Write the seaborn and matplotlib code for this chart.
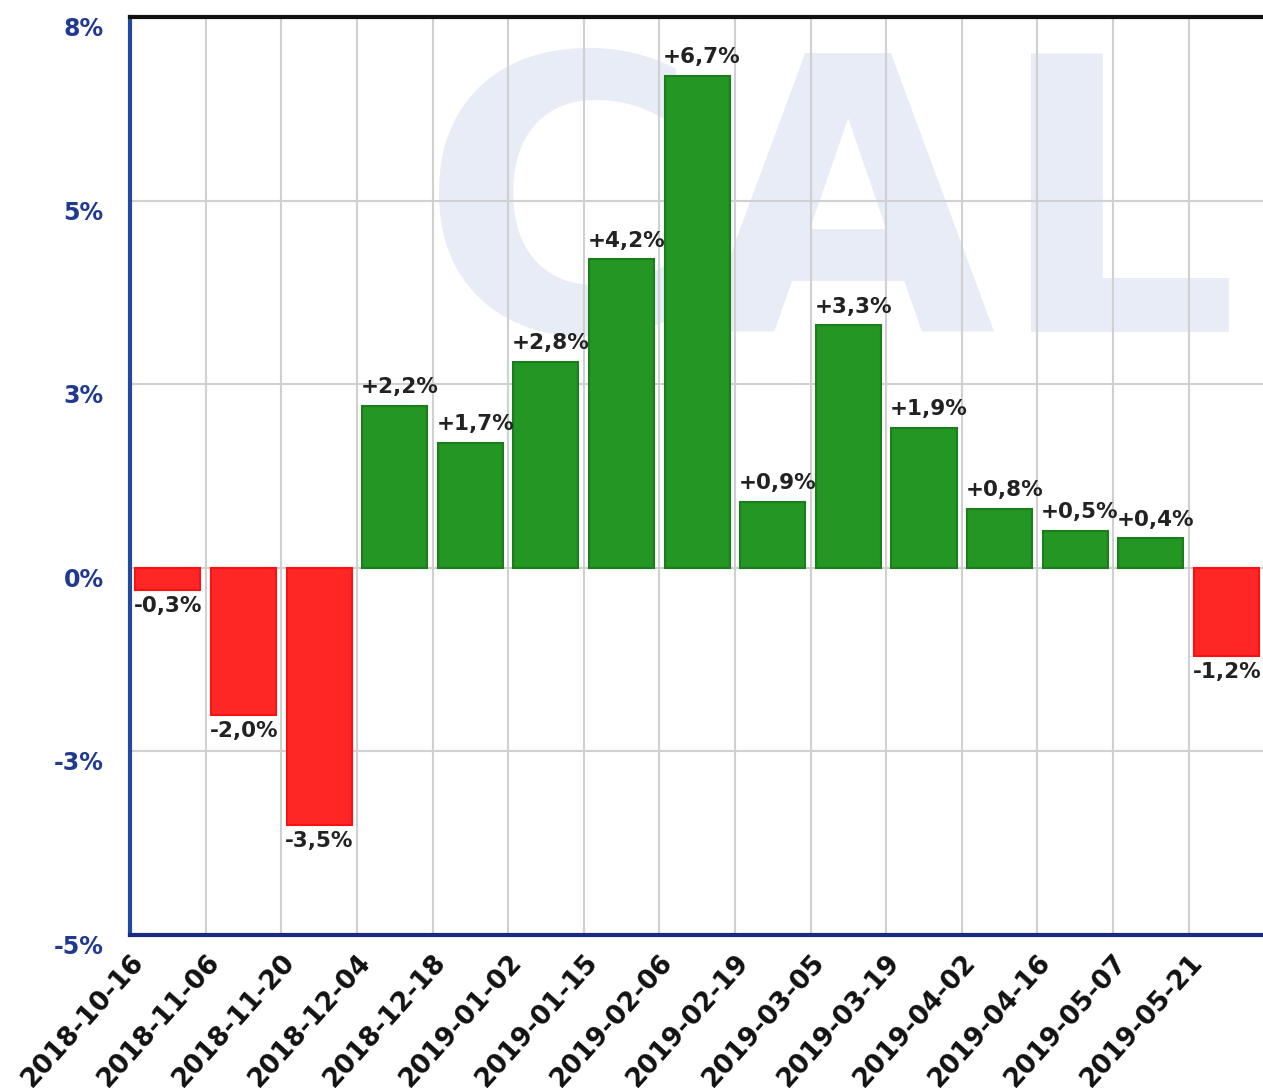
import numpy as np
import pandas as pd
import matplotlib
matplotlib.use("Agg")
import matplotlib.pyplot as plt
import seaborn as sns

# data
dates = ["2018-10-16", "2018-11-06", "2018-11-20", "2018-12-04", "2018-12-18",
         "2019-01-02", "2019-01-15", "2019-02-06", "2019-02-19", "2019-03-05",
         "2019-03-19", "2019-04-02", "2019-04-16", "2019-05-07", "2019-05-21"]
changes = [-0.3, -2.0, -3.5, 2.2, 1.7, 2.8, 4.2, 6.7, 0.9, 3.3, 1.9, 0.8, 0.5, 0.4, -1.2]
ytick_vals = [-5, -2.5, 0, 2.5, 5, 7.5]
ytick_labels = ["-5%", "-3%", "0%", "3%", "5%", "8%"]

df = pd.DataFrame({"date": dates, "change": changes})
df["sign"] = np.where(df["change"] >= 0, "up", "down")

sns.set_style("white")
plt.rcParams["font.family"] = ["DejaVu Sans"]

fig = plt.figure(figsize=(12.63, 10.92), dpi=100)
ax = fig.add_axes([0.103, 0.1438, 0.898, 0.8406])

# watermark
ax.text(0.617, 0.772, "CAL", transform=ax.transAxes, fontsize=275, fontweight="bold",
        color="#e7ecf6", ha="center", va="center", zorder=0.1, clip_on=True)

sns.barplot(data=df, x="date", y="change", hue="sign",
            palette={"up": "#239623", "down": "#ff2626"}, saturation=1,
            dodge=False, width=0.86, legend=False, ax=ax, zorder=2)

for p in ax.patches:
    fc = p.get_facecolor()
    p.set_edgecolor("#1c7d1c" if fc[1] > 0.5 else "#ff1010")
    p.set_linewidth(1.5)

# value labels at left edge of each bar
for i, v in enumerate(changes):
    txt = f"{v:+.1f}%".replace(".", ",")
    if v >= 0:
        ax.text(i - 0.45, v + 0.12, txt, ha="left", va="bottom",
                fontsize=15.5, fontweight="bold", color="#222222", zorder=3)
    else:
        ax.text(i - 0.45, v - 0.08, txt, ha="left", va="top",
                fontsize=15.5, fontweight="bold", color="#222222", zorder=3)

ax.set_xlim(-0.5, len(dates) - 0.5)
ax.set_ylim(-5, 7.5)
ax.set_xticks(np.arange(len(dates)) - 0.5)
ax.set_xticklabels(dates, rotation=48, ha="right", va="top", rotation_mode="anchor",
                   fontsize=19, fontweight="bold", color="#111111")
ax.set_yticks(ytick_vals)
ax.set_yticklabels(ytick_labels, fontsize=17, fontweight="bold", color="#1f3a8f", va="top")
ax.tick_params(axis="y", length=0, pad=19)
ax.tick_params(axis="x", length=8, width=1.2, color="#3050a0", direction="out", pad=2)
ax.set_xlabel("")
ax.set_ylabel("")

ax.set_axisbelow(True)
ax.grid(True, color="#d0d0d0", linewidth=1.5, zorder=0.5)

ax.spines["top"].set_color("#111111")
ax.spines["top"].set_linewidth(3)
ax.spines["left"].set_color("#1f4aa0")
ax.spines["left"].set_linewidth(3)
ax.spines["bottom"].set_color("#1a2a80")
ax.spines["bottom"].set_linewidth(3)
ax.spines["right"].set_visible(False)

fig.savefig("out.png", dpi=100)
